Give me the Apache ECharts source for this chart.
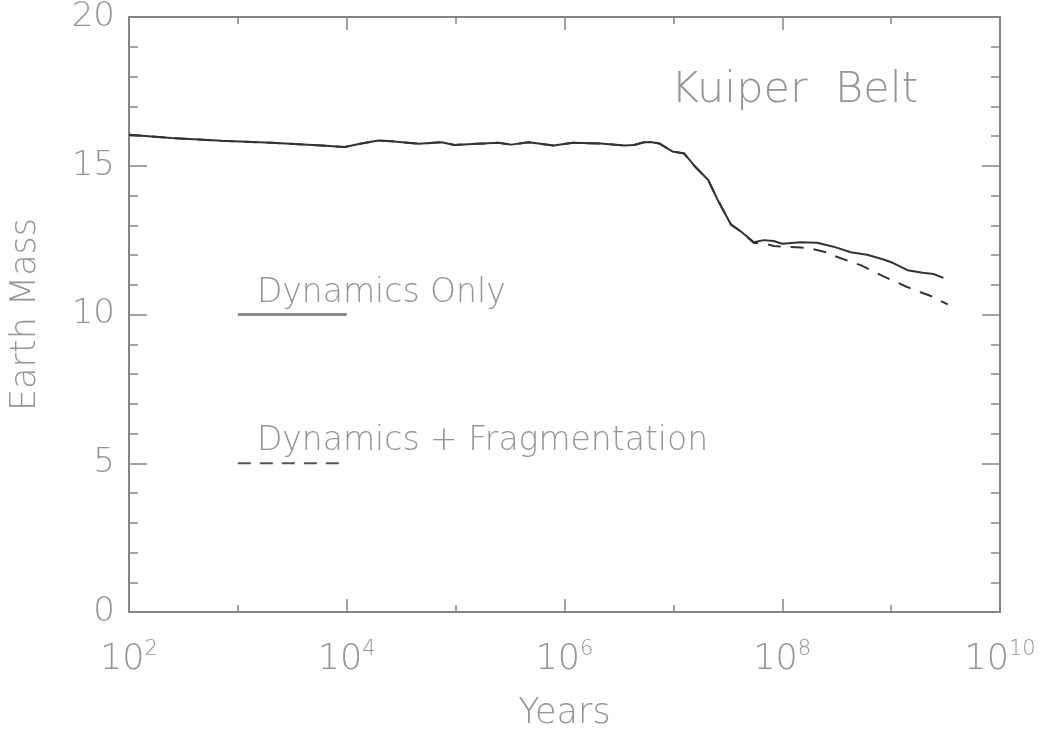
<!DOCTYPE html>
<html>
<head>
<meta charset="utf-8">
<script src="https://cdn.jsdelivr.net/npm/echarts@6/dist/echarts.min.js"></script>
<style>
html,body{margin:0;padding:0;background:#fff;}
#chart{width:1044px;height:736px;}
</style>
</head>
<body>
<div id="chart"></div>
<script>
// log10(Years) and Earth Mass
const dynLogYears = [2.00,2.39,2.85,3.31,3.77,3.98,4.135,4.29,4.41,4.66,4.87,4.99,5.20,5.39,5.51,5.67,5.90,6.08,6.33,6.55,6.64,6.73,6.79,6.87,6.99,7.10,7.19,7.32,7.41,7.53,7.62,7.74,7.83,7.92,8.00,8.17,8.32,8.47,8.63,8.78,8.93,9.02,9.15,9.29,9.39,9.48];
const dynMass     = [16.04,15.93,15.84,15.77,15.68,15.63,15.75,15.85,15.82,15.74,15.79,15.70,15.74,15.77,15.71,15.79,15.68,15.77,15.75,15.68,15.70,15.79,15.80,15.75,15.48,15.41,15.01,14.52,13.83,13.02,12.79,12.43,12.50,12.47,12.38,12.43,12.41,12.28,12.09,12.01,11.85,11.73,11.49,11.40,11.36,11.23];
const fragLogYears = [2.00,2.39,2.85,3.31,3.77,3.98,4.135,4.29,4.41,4.66,4.87,4.99,5.20,5.39,5.51,5.67,5.90,6.08,6.33,6.55,6.64,6.73,6.79,6.87,6.99,7.10,7.19,7.32,7.41,7.53,7.62,7.74,7.83,7.92,8.17,8.26,8.41,8.47,8.63,8.72,8.84,8.93,9.06,9.13,9.27,9.36,9.52];
const fragMass     = [16.04,15.93,15.84,15.77,15.68,15.63,15.75,15.85,15.82,15.74,15.79,15.70,15.74,15.77,15.71,15.79,15.68,15.77,15.75,15.68,15.70,15.79,15.80,15.75,15.48,15.41,15.01,14.52,13.83,13.02,12.79,12.40,12.40,12.30,12.25,12.22,12.09,11.98,11.77,11.66,11.44,11.28,11.07,10.95,10.75,10.63,10.34];
// legend keys drawn in data space (from 10^3 to 10^4)
const keySolidX = [3, 4], keySolidY = [10, 10];
const keyDashX = [3, 4], keyDashY = [5, 5];
const xTicksExp = [2, 4, 6, 8, 10];
const yTicks = [0, 5, 10, 15, 20];
const seriesNames = ['Dynamics Only', 'Dynamics + Fragmentation'];
const titleText = 'Kuiper Belt';
const xName = 'Years', yName = 'Earth Mass';

const FONT = 'DejaVu Sans';
const FW = 200;
const TXT = '#959595';
const AX = '#858585';
const zip = (a, b) => a.map((v, i) => [v, b[i]]);

const chart = echarts.init(document.getElementById('chart'), null, {renderer: 'canvas'});

function xAxisCfg(pos, showLabel) {
  return {
    type: 'value', position: pos, min: xTicksExp[0], max: xTicksExp[xTicksExp.length - 1], interval: 2,
    axisLine: {show: true, onZero: false, lineStyle: {color: AX, width: 2}},
    axisTick: {show: true, inside: true, length: 13, lineStyle: {color: AX, width: 1.5}},
    minorTick: {show: true, splitNumber: 2, length: 7, lineStyle: {color: AX, width: 1.5}},
    splitLine: {show: false},
    axisLabel: showLabel ? {
      show: true, margin: 27,
      formatter: v => '{b|10}{s|' + v + '}',
      rich: {
        b: {fontFamily: FONT, fontWeight: FW, fontSize: 35, color: TXT, verticalAlign: 'bottom'},
        s: {fontFamily: FONT, fontWeight: FW, fontSize: 21, color: TXT, verticalAlign: 'bottom', padding: [0, 0, 17, 0]}
      }
    } : {show: false}
  };
}
function yAxisCfg(pos, showLabel) {
  return {
    type: 'value', position: pos, min: 0, max: 20, interval: 5,
    axisLine: {show: true, onZero: false, lineStyle: {color: AX, width: 2}},
    axisTick: {show: true, inside: true, length: 18, lineStyle: {color: AX, width: 1.5}},
    minorTick: {show: true, splitNumber: 5, length: 9, lineStyle: {color: AX, width: 1.5}},
    splitLine: {show: false},
    axisLabel: showLabel ? {show: true, margin: 14, fontFamily: FONT, fontWeight: FW, fontSize: 34, color: TXT} : {show: false}
  };
}

const xa = [xAxisCfg('bottom', true), xAxisCfg('top', false)];
xa[0].name = xName; xa[0].nameLocation = 'middle'; xa[0].nameGap = 84;
xa[0].nameTextStyle = {fontFamily: FONT, fontWeight: FW, fontSize: 35, color: TXT};
const ya = [yAxisCfg('left', true), yAxisCfg('right', false)];
ya[0].name = yName; ya[0].nameLocation = 'middle'; ya[0].nameGap = 86;
ya[0].nameTextStyle = {fontFamily: FONT, fontWeight: FW, fontSize: 35, color: TXT};

chart.setOption({
  animation: false,
  backgroundColor: '#fff',
  grid: {left: 127, right: 44, top: 13, bottom: 107, containLabel: false},
  xAxis: xa,
  yAxis: ya,
  series: [
    {name: seriesNames[1], type: 'line', data: zip(fragLogYears, fragMass), showSymbol: false, smooth: false,
     lineStyle: {color: '#333', width: 2, type: [13, 10]}, z: 3},
    {name: seriesNames[0], type: 'line', data: zip(dynLogYears, dynMass), showSymbol: false, smooth: false,
     lineStyle: {color: '#333', width: 2}, z: 4},
    {name: 'keySolid', type: 'line', data: zip(keySolidX, keySolidY), showSymbol: false, silent: true,
     lineStyle: {color: '#8a8a8a', width: 3}},
    {name: 'keyDash', type: 'line', data: zip(keyDashX, keyDashY), showSymbol: false, silent: true,
     lineStyle: {color: '#555', width: 2, type: [13, 9]}}
  ]
});

const p1 = chart.convertToPixel({xAxisIndex: 0, yAxisIndex: 0}, [keySolidX[0], keySolidY[0]]);
const p2 = chart.convertToPixel({xAxisIndex: 0, yAxisIndex: 0}, [keyDashX[0], keyDashY[0]]);
const f = s => FW + ' ' + s + 'px "' + FONT + '"';
chart.setOption({
  graphic: [
    {type: 'text', left: 671, top: 69, style: {text: titleText.replace(' ', '  '), font: f(43), fill: TXT}},
    {type: 'text', x: p1[0] + 19, y: p1[1] - 5, style: {text: seriesNames[0], font: f(33), fill: TXT, verticalAlign: 'bottom'}},
    {type: 'text', x: p2[0] + 19, y: p2[1] - 5, style: {text: seriesNames[1], font: f(33), fill: TXT, verticalAlign: 'bottom'}}
  ]
});
</script>
</body>
</html>
